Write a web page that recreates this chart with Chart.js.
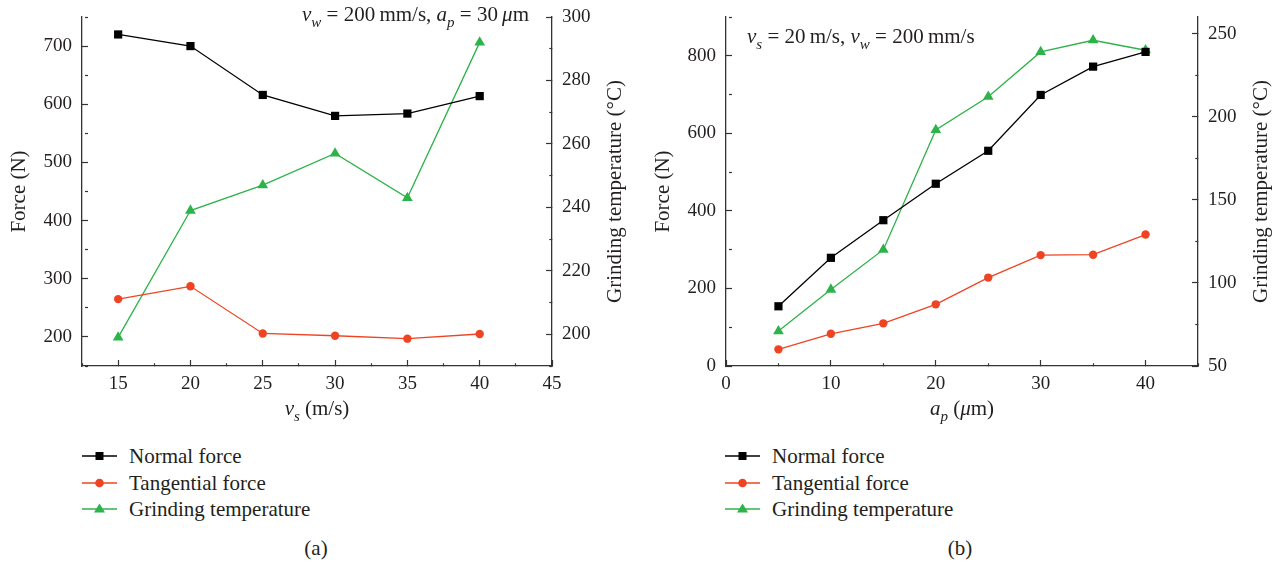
<!DOCTYPE html>
<html>
<head>
<meta charset="utf-8">
<script src="https://cdn.jsdelivr.net/npm/chart.js@4.4.1/dist/chart.umd.min.js"></script>
<style>
  body { margin: 0; background: #fff; width: 1277px; height: 562px; position: relative; overflow: hidden;
         font-family: "Liberation Serif", "DejaVu Serif", serif; color: #231f20; }
  canvas { position: absolute; top: 0; }
  #ca { left: 0; }
  #cb { left: 640px; }
  .leg { position: absolute; font-size: 21px; line-height: 26.5px; white-space: nowrap; }
  .leg svg { vertical-align: middle; margin-right: 12px; position: relative; top: -2px; }
  .cap { position: absolute; font-size: 21px; transform: translate(-50%, -50%); }
</style>
</head>
<body>
<canvas id="ca" width="640" height="430"></canvas>
<canvas id="cb" width="637" height="430"></canvas>
<div class="leg" id="lega" style="left:82px; top:443px"></div>
<div class="leg" id="legb" style="left:725px; top:443px"></div>
<div class="cap" style="left:316px; top:548px">(a)</div>
<div class="cap" style="left:960px; top:548px">(b)</div>

<script>
// ---- data ----
var seriesNames = ['Normal force', 'Tangential force', 'Grinding temperature'];

// (a) wheel speed vs force / temperature
var speedA  = [15, 20, 25, 30, 35, 40];
var normalA = [720, 700, 616, 580, 584, 614];
var tangA   = [265, 287, 206, 202, 197, 205];
var tempA   = [199, 239, 247, 257, 243, 292];

// (b) depth of cut vs force / temperature
var depthB  = [5, 10, 15, 20, 25, 30, 35, 40];
var normalB = [154, 279, 376, 470, 555, 699, 772, 810];
var tangB   = [43, 83, 110, 159, 228, 286, 287, 339];
var tempB   = [71, 96, 120, 192, 212, 239, 246, 240];

var BLACK = '#000000', RED = '#ee4423', GREEN = '#2eb24a', AXIS = '#333333', TEXT = '#231f20';
var FONT = '"Liberation Serif", "DejaVu Serif", serif';

function pts(xs, ys) {
  return xs.map(function (x, i) { return { x: x, y: ys[i] }; });
}

function isMajor(v, major) {
  var r = v / major;
  return Math.abs(r - Math.round(r)) < 1e-6;
}

// axis with inward ticks, short minor ticks and labels only on majors
function axis(pos, min, max, step, major, size) {
  return {
    type: 'linear',
    position: pos,
    min: min, max: max,
    border: { display: true, color: AXIS, width: 1.3 },
    grid: {
      drawOnChartArea: false,
      drawTicks: true,
      tickLength: -6,
      tickColor: AXIS,
      tickWidth: 1.2,
      tickBorderDash: function (ctx) {
        return isMajor(ctx.tick.value, major) ? [] : [3, 30];
      }
    },
    ticks: {
      stepSize: step,
      maxTicksLimit: 100,
      autoSkip: false,
      includeBounds: false,
      maxRotation: 0,
      padding: pos === 'bottom' ? 13 : 16,
      color: TEXT,
      font: { family: FONT, size: 19 },
      callback: function (v) { return isMajor(v, major) ? String(v) : ''; }
    },
    afterFit: function (sc) {
      if (pos === 'bottom') {
        sc.height = size; sc.paddingLeft = 0; sc.paddingRight = 0;
      } else {
        sc.width = size; sc.paddingTop = 0; sc.paddingBottom = 0;
      }
    }
  };
}

// draw text made of plain / italic / subscript pieces
function drawRich(ctx, segs, x, y, align, size) {
  function fontOf(seg) {
    var sub = seg[1].indexOf('s') >= 0;
    var it = seg[1].indexOf('i') >= 0;
    return (it ? 'italic ' : '') + (sub ? Math.round(size * 0.72) : size) + 'px ' + FONT;
  }
  var total = 0;
  segs.forEach(function (seg) { ctx.font = fontOf(seg); total += ctx.measureText(seg[0]).width; });
  var cx = align === 'right' ? x - total : align === 'center' ? x - total / 2 : x;
  ctx.textAlign = 'left';
  ctx.textBaseline = 'alphabetic';
  segs.forEach(function (seg) {
    ctx.font = fontOf(seg);
    var dy = seg[1].indexOf('s') >= 0 ? size * 0.28 : 0;
    ctx.fillText(seg[0], cx, y + dy);
    cx += ctx.measureText(seg[0]).width;
  });
}

// axis titles and the condition note, placed from the chart area
var titles = {
  id: 'titles',
  afterDraw: function (chart, args, o) {
    var ctx = chart.ctx, a = chart.chartArea;
    var midY = (a.top + a.bottom) / 2;
    ctx.save();
    ctx.fillStyle = TEXT;
    ctx.font = '21px ' + FONT;
    ctx.textAlign = 'center';
    ctx.textBaseline = 'middle';
    [[a.left - 63, o.left], [a.right + 63, o.right]].forEach(function (t) {
      ctx.save();
      ctx.translate(t[0], midY);
      ctx.rotate(-Math.PI / 2);
      ctx.fillText(t[1], 0, 0);
      ctx.restore();
    });
    drawRich(ctx, o.bottom, (a.left + a.right) / 2, a.bottom + 49, 'center', 21);
    if (o.noteAlign === 'right') drawRich(ctx, o.note, a.right - 23, a.top + 4, 'right', 21);
    else drawRich(ctx, o.note, a.left + 21, a.top + 26, 'left', 21);
    ctx.restore();
  }
};

function datasets(xs, n, t, g) {
  var common = { borderWidth: 1.3, tension: 0, fill: false, pointBorderWidth: 0 };
  return [
    Object.assign({ label: seriesNames[0], data: pts(xs, n), yAxisID: 'y', borderColor: BLACK,
      backgroundColor: BLACK, pointStyle: 'rect', pointRadius: 5.8 }, common),
    Object.assign({ label: seriesNames[1], data: pts(xs, t), yAxisID: 'y', borderColor: RED,
      backgroundColor: RED, pointStyle: 'circle', pointRadius: 4.2 }, common),
    Object.assign({ label: seriesNames[2], data: pts(xs, g), yAxisID: 'y1', borderColor: GREEN,
      backgroundColor: GREEN, pointStyle: 'triangle', pointRadius: 6.2 }, common)
  ];
}

function baseOptions(padRight, scales, titleOpts) {
  return {
    responsive: false,
    animation: false,
    devicePixelRatio: 1,
    layout: { padding: { left: 0, right: padRight, top: 17, bottom: 0 } },
    scales: scales,
    plugins: { legend: { display: false }, tooltip: { enabled: false }, titles: titleOpts }
  };
}

new Chart(document.getElementById('ca'), {
  type: 'line',
  data: { datasets: datasets(speedA, normalA, tangA, tempA) },
  options: baseOptions(18, {
    x: axis('bottom', 12.5, 45, 2.5, 5, 64),
    y: axis('left', 150, 750, 50, 100, 82),
    y1: axis('right', 190, 300, 10, 20, 70)
  }, {
    left: 'Force (N)',
    right: 'Grinding temperature (°C)',
    bottom: [['v', 'i'], ['s', 'is'], [' (m/s)', '']],
    note: [['v', 'i'], ['w', 'is'], [' = 200\u2009mm/s, ', ''], ['a', 'i'], ['p', 'is'],
           [' = 30\u2009', ''], ['\u03bc', 'i'], ['m', '']],
    noteAlign: 'right'
  }),
  plugins: [titles]
});

new Chart(document.getElementById('cb'), {
  type: 'line',
  data: { datasets: datasets(depthB, normalB, tangB, tempB) },
  options: baseOptions(9, {
    x: axis('bottom', 0, 45, 5, 10, 64),
    y: axis('left', 0, 900, 100, 200, 86),
    y1: axis('right', 50, 260, 25, 50, 70)
  }, {
    left: 'Force (N)',
    right: 'Grinding temperature (°C)',
    bottom: [['a', 'i'], ['p', 'is'], [' (', ''], ['\u03bc', 'i'], ['m)', '']],
    note: [['v', 'i'], ['s', 'is'], [' = 20\u2009m/s, ', ''], ['v', 'i'], ['w', 'is'],
           [' = 200\u2009mm/s', '']],
    noteAlign: 'left'
  }),
  plugins: [titles]
});

// legend rows: line with marker, then the series name
var legendColors = [BLACK, RED, GREEN];
var legendMarks = [
  '<rect x="13.5" y="3" width="8" height="8" fill="C"/>',
  '<circle cx="17.5" cy="7" r="4.3" fill="C"/>',
  '<polygon points="17.5,1.5 23,10.5 12,10.5" fill="C"/>'
];
['lega', 'legb'].forEach(function (id) {
  var html = '';
  seriesNames.forEach(function (name, i) {
    var c = legendColors[i];
    html += '<div><svg width="35" height="14"><line x1="0" y1="7" x2="35" y2="7" stroke="' + c +
      '" stroke-width="1.4"/>' + legendMarks[i].replace('C', c) + '</svg>' + name + '</div>';
  });
  document.getElementById(id).innerHTML = html;
});
</script>
</body>
</html>
